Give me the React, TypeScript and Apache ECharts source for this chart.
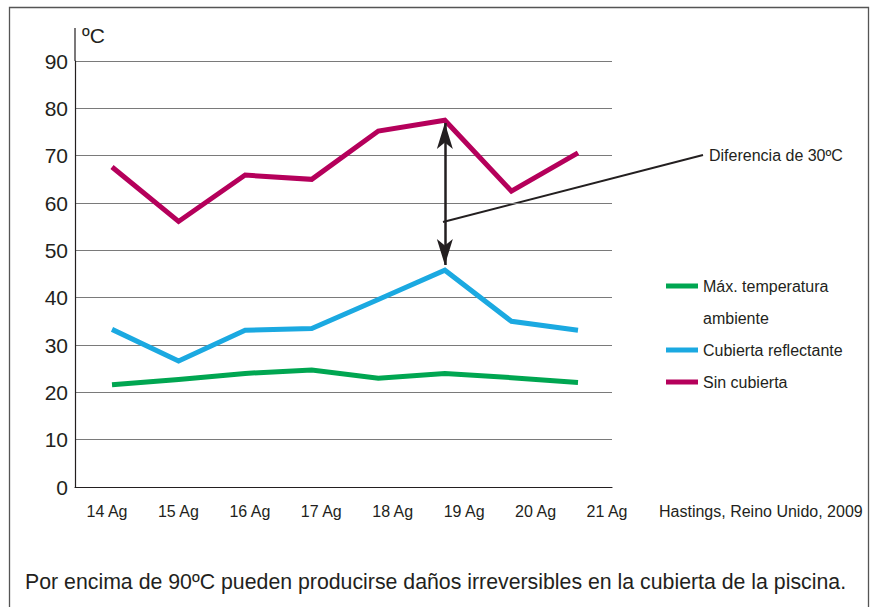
import React, { useEffect, useRef } from "react";
import * as echarts from "echarts";

const dayLabels = ["14 Ag", "15 Ag", "16 Ag", "17 Ag", "18 Ag", "19 Ag", "20 Ag", "21 Ag"];
const yTicks = [0, 10, 20, 30, 40, 50, 60, 70, 80, 90];
const seriesNames = ["Máx. temperatura\nambiente", "Cubierta reflectante", "Sin cubierta"];
const ambiente = [21.6, 22.7, 24.0, 24.7, 23.0, 24.0, 23.1, 22.1];
const reflectante = [33.3, 26.6, 33.1, 33.5, 39.6, 45.8, 35.0, 33.1];
const sinCubierta = [67.6, 56.1, 65.9, 65.0, 75.2, 77.5, 62.5, 70.6];
const arrowDay = 5;
const arrowRange = [76.9, 46.9];
const unitLabel = "ºC";
const noteText = "Diferencia de 30ºC";
const sourceText = "Hastings, Reino Unido, 2009";
const captionText = "Por encima de 90ºC pueden producirse daños irreversibles en la cubierta de la piscina.";

const FONT = "'Liberation Sans', Arial, Helvetica, sans-serif";
const INK = "#231f20";
const GREEN = "#00a651";
const BLUE = "#1ba9e1";
const MAGENTA = "#b5005b";

export default function App() {
  const ref = useRef<HTMLDivElement>(null);
  useEffect(() => {
    document.body.style.margin = "0";
    if (!ref.current) return;
    const chart = echarts.init(ref.current, undefined, { renderer: "svg" });
    const top = 61;
    const bottom = 120;
    const yMax = yTicks[yTicks.length - 1];
    const lineSeries = (name: string, data: number[], color: string, extra: any = {}) => ({
      type: "line",
      name,
      data,
      xAxisIndex: 1,
      yAxisIndex: 1,
      symbol: "none",
      lineStyle: { color, width: 5, cap: "butt", join: "miter" },
      itemStyle: { color },
      silent: true,
      ...extra,
    });
    chart.setOption({
      animation: false,
      textStyle: { fontFamily: FONT },
      grid: [
        { left: 75, right: 266, top, bottom },
        { left: 112, right: 300, top, bottom },
        { left: 107, right: 271, top, bottom },
      ],
      xAxis: [
        {
          gridIndex: 0,
          type: "category",
          data: dayLabels,
          boundaryGap: false,
          axisLine: { show: true, lineStyle: { color: INK, width: 1.2 } },
          axisTick: { show: false },
          axisLabel: { show: false },
          splitLine: { show: false },
        },
        {
          gridIndex: 1,
          type: "category",
          data: dayLabels,
          boundaryGap: false,
          show: false,
        },
        {
          gridIndex: 2,
          type: "category",
          data: dayLabels,
          boundaryGap: false,
          axisLine: { show: false },
          axisTick: { show: false },
          splitLine: { show: false },
          axisLabel: { margin: 16, fontSize: 16, color: INK, fontFamily: FONT },
        },
      ],
      yAxis: [
        {
          gridIndex: 0,
          type: "value",
          min: 0,
          max: yMax,
          interval: 10,
          name: unitLabel,
          nameLocation: "end",
          nameGap: 26,
          nameTextStyle: {
            fontSize: 21,
            color: INK,
            align: "left",
            verticalAlign: "middle",
            padding: [0, 0, 0, 7],
            fontFamily: FONT,
          },
          axisLine: { show: true, lineStyle: { color: INK, width: 1.2 } },
          axisTick: { show: false },
          axisLabel: { margin: 7, fontSize: 21, color: INK, fontFamily: FONT },
          splitLine: { show: true, lineStyle: { color: "#7a7a7a", width: 1.2 } },
        },
        { gridIndex: 1, type: "value", min: 0, max: yMax, show: false },
        { gridIndex: 2, type: "value", min: 0, max: yMax, show: false },
      ],
      legend: {
        left: 666,
        top: 238,
        orient: "vertical",
        padding: 0,
        itemGap: 0,
        itemWidth: 32,
        itemHeight: 5,
        icon: "rect",
        selectedMode: false,
        textStyle: { fontSize: 16, color: INK, lineHeight: 32, fontFamily: FONT },
        formatter: (name: string) => (name === seriesNames[0] ? "\n" + name : name),
        data: seriesNames,
      },
      series: [
        lineSeries(seriesNames[0], ambiente, GREEN),
        lineSeries(seriesNames[1], reflectante, BLUE),
        lineSeries(seriesNames[2], sinCubierta, MAGENTA, {
          markLine: {
            silent: true,
            symbol: ["arrow", "arrow"],
            symbolSize: [12, 26],
            label: { show: false },
            lineStyle: { color: INK, width: 2.5, type: "solid" },
            emphasis: { disabled: true },
            data: [[{ coord: [arrowDay, arrowRange[0]] }, { coord: [arrowDay, arrowRange[1]] }]],
          },
        }),
      ],
      graphic: [
        {
          type: "polyline",
          silent: true,
          shape: { points: [[9.5, 607], [9.5, 7.5], [868.5, 7.5], [868.5, 607]] },
          style: { stroke: "#555", lineWidth: 1.3, fill: null },
        },
        {
          type: "line",
          silent: true,
          shape: { x1: 75, y1: 28, x2: 75, y2: 61 },
          style: { stroke: INK, lineWidth: 1.2 },
        },
        {
          type: "line",
          silent: true,
          shape: { x1: 443, y1: 222, x2: 703, y2: 155 },
          style: { stroke: INK, lineWidth: 2 },
        },
        {
          type: "text",
          silent: true,
          x: 709,
          y: 155,
          style: { text: noteText, fontSize: 16, fill: INK, fontFamily: FONT, verticalAlign: "middle" },
        },
        {
          type: "text",
          silent: true,
          x: 659,
          y: 511,
          style: { text: sourceText, fontSize: 16, fill: INK, fontFamily: FONT, verticalAlign: "middle" },
        },
        {
          type: "text",
          silent: true,
          x: 25,
          y: 582,
          style: { text: captionText, fontSize: 21.3, fill: INK, fontFamily: FONT, verticalAlign: "middle" },
        },
      ],
    });
    return () => chart.dispose();
  }, []);
  return (
    <div
      ref={ref}
      style={{ position: "absolute", left: 0, top: 0, width: 878, height: 607, background: "#fff" }}
    />
  );
}
